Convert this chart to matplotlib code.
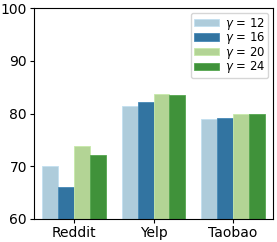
import numpy as np
import matplotlib
matplotlib.use('Agg')
import matplotlib.pyplot as plt
import seaborn as sns

datasets = ['Reddit', 'Yelp', 'Taobao']
gammas = [12, 16, 20, 24]
vals_g12 = [70.0, 81.5, 79.0]
vals_g16 = [66.1, 82.1, 79.2]
vals_g20 = [73.9, 83.7, 79.9]
vals_g24 = [72.1, 83.5, 79.9]
series = [vals_g12, vals_g16, vals_g20, vals_g24]

plt.rcParams['font.family'] = ['DejaVu Sans']
pal = sns.color_palette('Paired', 4)
colors = [sns.desaturate(c, 0.75) for c in pal]

fig = plt.figure(figsize=(2.77, 2.42), dpi=100)
ax = fig.add_axes([34 / 277, 1 - 219 / 242, 239 / 277, 211 / 242])

x = np.arange(len(datasets))
w = 0.2
for i, (g, v) in enumerate(zip(gammas, series)):
    edge = tuple(min(1, c + 0.08) for c in colors[i])
    ax.bar(x + (i - 1.5) * w, v, width=w, color=colors[i], edgecolor=edge,
           linewidth=0.6, label=f'$\\gamma$ = {g}')

ax.set_xlim(-0.5, 2.5)
ax.set_ylim(60, 100)
ax.set_yticks([60, 70, 80, 90, 100])
ax.set_xticks(x)
ax.set_xticklabels(datasets)
ax.tick_params(labelsize=10, length=3, width=0.8, pad=2)
for s in ax.spines.values():
    s.set_linewidth(0.8)

ax.legend(loc='upper right', fontsize=8.4, handlelength=2.2, handleheight=0.6,
          labelspacing=-0.12, borderpad=0.25, handletextpad=0.5,
          borderaxespad=0.4, framealpha=0.8)

fig.savefig('out.png', dpi=100)
